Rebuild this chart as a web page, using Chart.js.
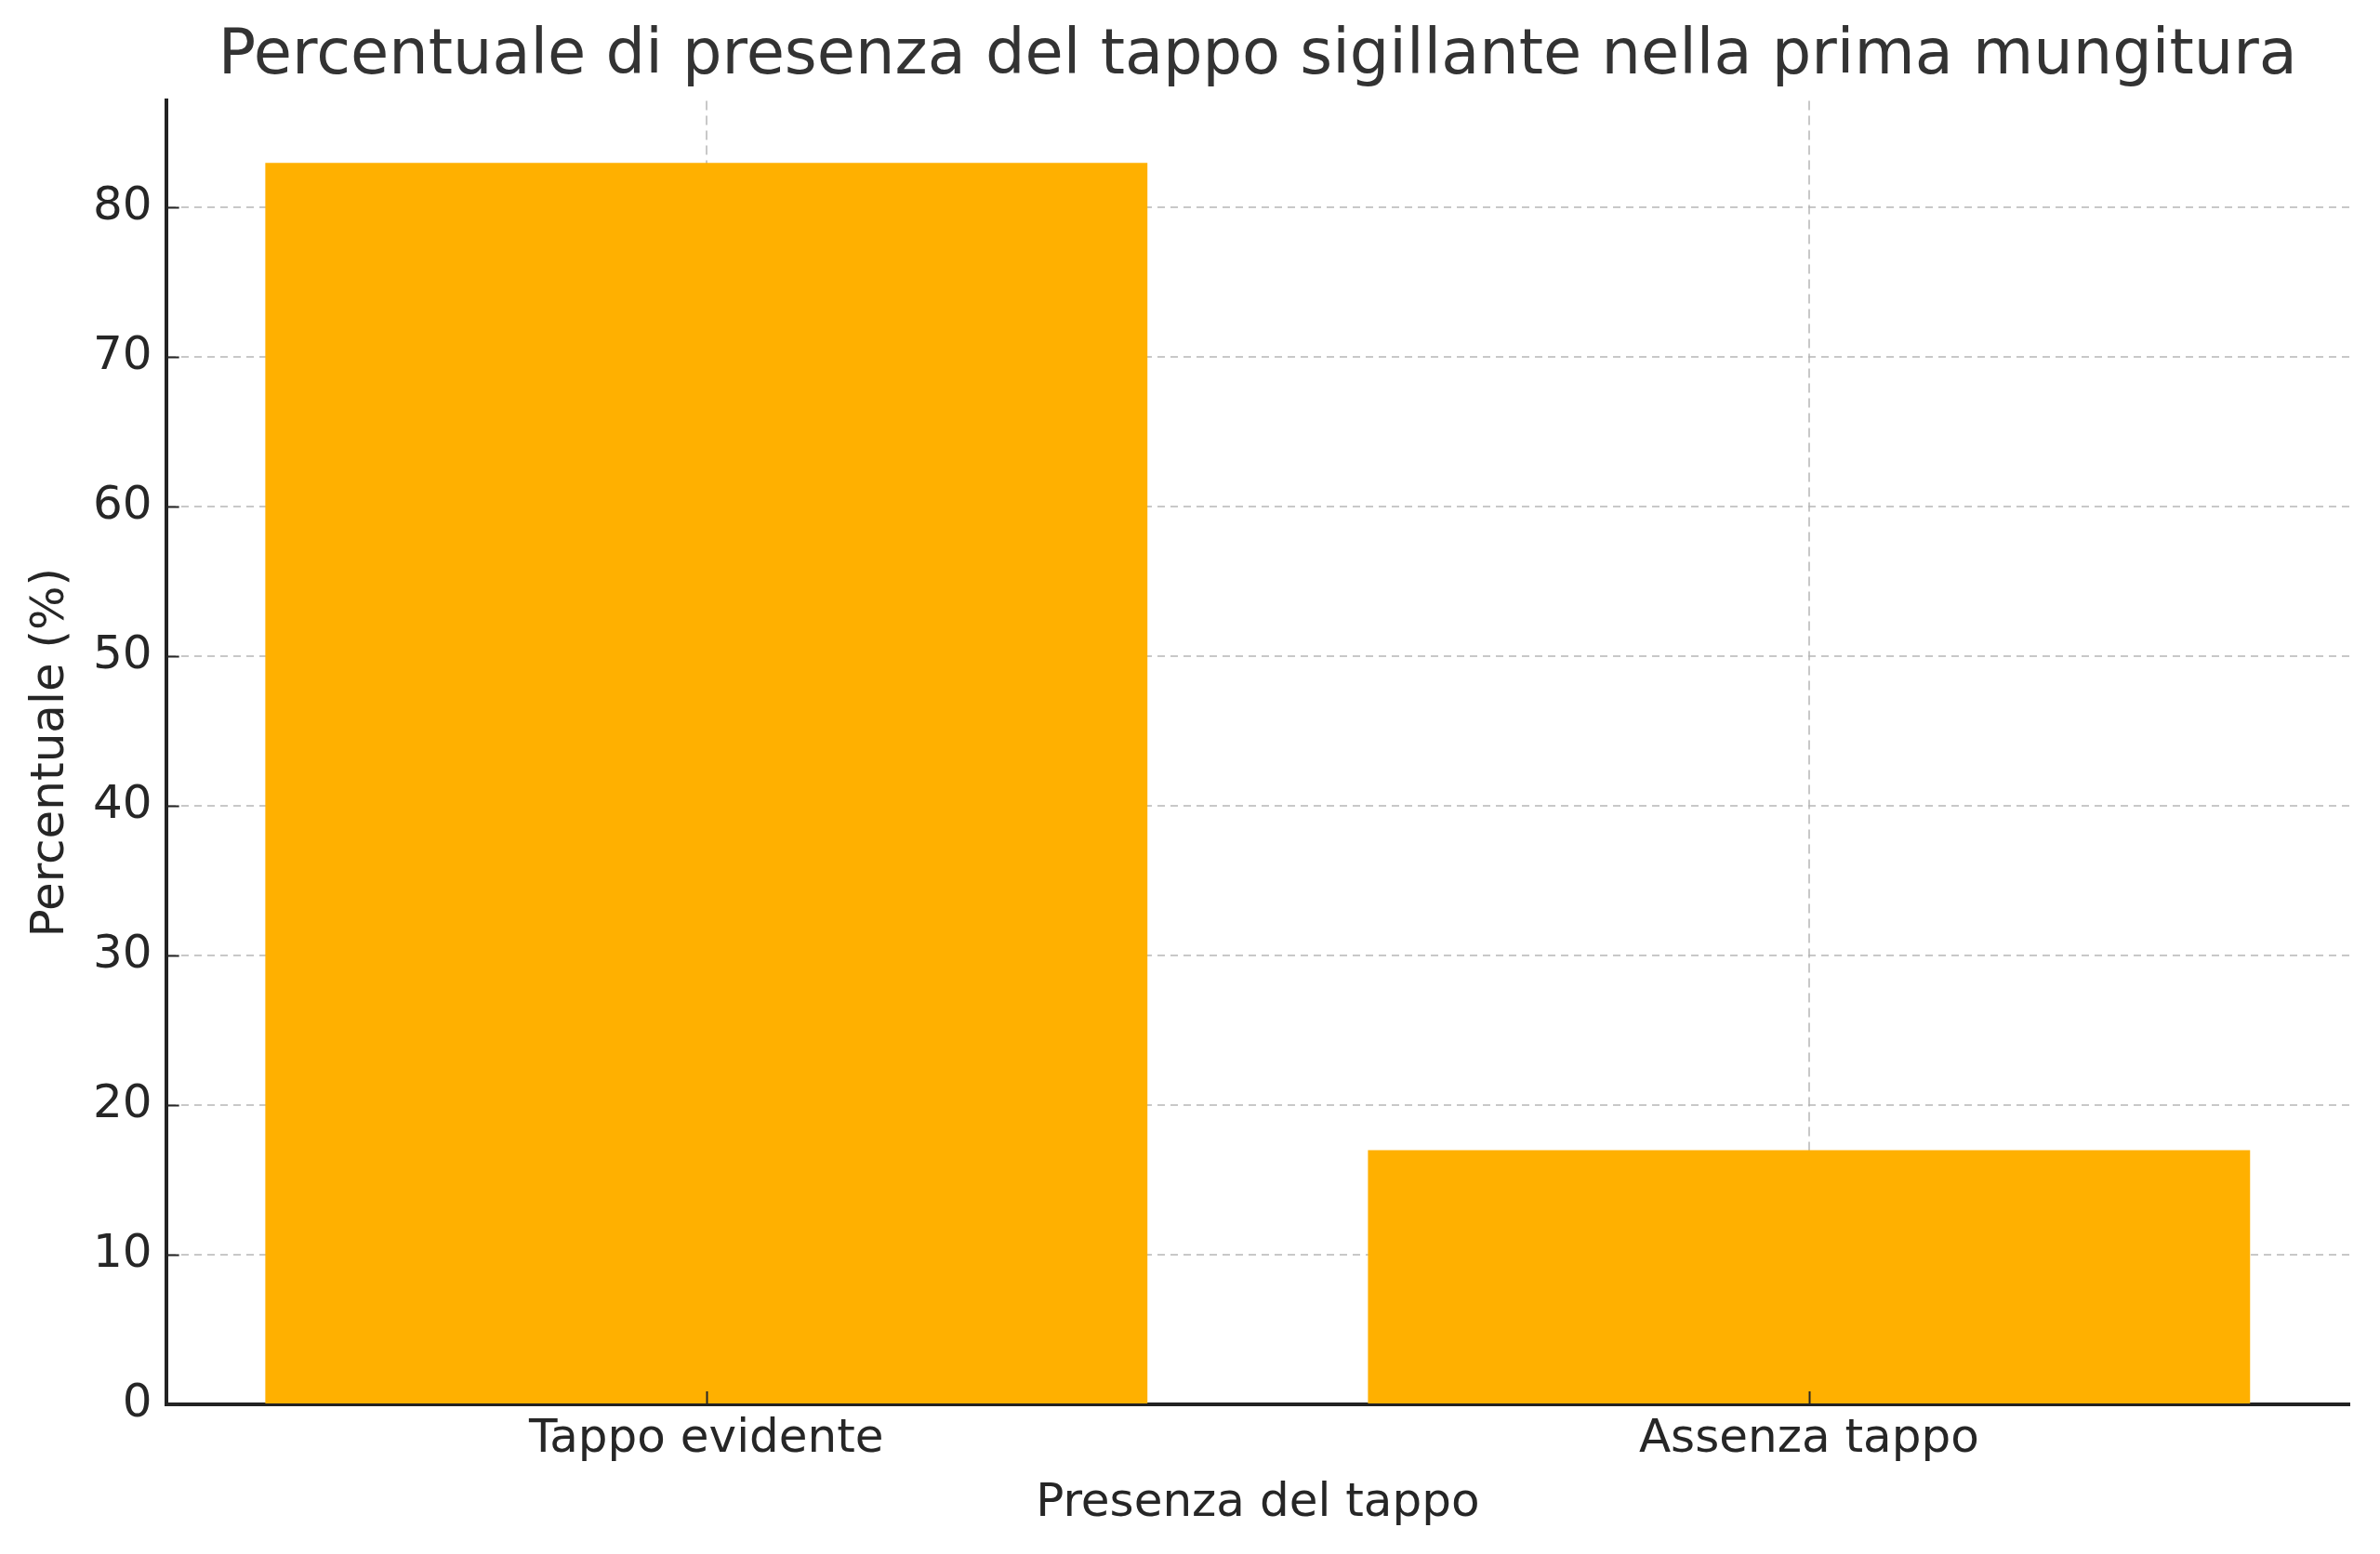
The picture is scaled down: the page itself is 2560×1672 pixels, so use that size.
<!DOCTYPE html>
<html>
<head>
<meta charset="utf-8">
<script src="https://cdn.jsdelivr.net/npm/chart.js@4.4.1/dist/chart.umd.min.js"></script>
<style>
  html, body { margin: 0; padding: 0; background: #fff; }
  #wrap { width: 2560px; height: 1672px; }
</style>
</head>
<body>
<div id="wrap"><canvas id="chart" width="2560" height="1672"></canvas></div>
<script>
// ── Data ────────────────────────────────────────────────────────────────
const categories = ['Tappo evidente', 'Assenza tappo'];
const percentuali = [83, 17];
const yTicks = [0, 10, 20, 30, 40, 50, 60, 70, 80];

const TEXT  = '#262626';
const GRID  = 'rgba(176,176,176,0.7)';
const BAR   = '#ffb000';

Chart.defaults.font.family = '"DejaVu Sans", sans-serif';
Chart.defaults.color = TEXT;

// ── Inward tick marks (matplotlib style) ────────────────────────────────
const innerTicks = {
  id: 'innerTicks',
  afterDraw(chart) {
    const { ctx, chartArea, scales } = chart;
    ctx.save();
    ctx.strokeStyle = TEXT;
    ctx.lineWidth = 2;
    ctx.beginPath();
    yTicks.forEach(v => {
      const y = Math.round(scales.y.getPixelForValue(v)) + 0.5;
      ctx.moveTo(chartArea.left, y);
      ctx.lineTo(chartArea.left + 14, y);
    });
    categories.forEach((c, i) => {
      const x = Math.round(scales.x.getPixelForValue(i)) + 0.5;
      ctx.moveTo(x, chartArea.bottom);
      ctx.lineTo(x, chartArea.bottom - 14);
    });
    ctx.stroke();
    ctx.restore();
  }
};

new Chart(document.getElementById('chart'), {
  type: 'bar',
  data: {
    datasets: [{
      data: percentuali.map((v, i) => ({ x: i, y: v })),
      backgroundColor: BAR,
      borderWidth: 0,
      barPercentage: 0.8,
      categoryPercentage: 1.0
    }]
  },
  options: {
    responsive: false,
    animation: false,
    devicePixelRatio: 1,
    layout: { padding: { left: 7, right: 33, top: 0, bottom: 24 } },
    plugins: {
      legend: { display: false },
      tooltip: { enabled: false },
      title: {
        display: true,
        fullSize: false,
        text: 'Percentuale di presenza del tappo sigillante nella prima mungitura',
        color: '#333333',
        font: { size: 67, weight: 'normal' },
        padding: { top: 21, bottom: 7 }
      }
    },
    scales: {
      x: {
        type: 'linear',
        z: 1,
        min: -0.49,
        max: 1.49,
        offset: false,
        afterBuildTicks(scale) { scale.ticks = categories.map((c, i) => ({ value: i })); },
        grid: { color: GRID, lineWidth: 2, drawTicks: false, offset: false },
        border: { color: '#222222', width: 4, dash: [10, 6] },
        ticks: {
          padding: 8,
          font: { size: 50 },
          color: TEXT,
          callback: v => categories[v]
        },
        title: {
          display: true,
          text: 'Presenza del tappo',
          font: { size: 50 },
          color: TEXT,
          padding: { top: 1, bottom: 0 }
        }
      },
      y: {
        z: 1,
        min: 0,
        max: 87.15,
        afterBuildTicks(scale) { scale.ticks = yTicks.map(v => ({ value: v })); },
        grid: { color: GRID, lineWidth: 2, drawTicks: false },
        border: { color: '#222222', width: 4, dash: [8, 6] },
        ticks: { padding: 15, font: { size: 50 }, color: TEXT },
        title: {
          display: true,
          text: 'Percentuale (%)',
          font: { size: 50 },
          color: TEXT,
          padding: { top: 18, bottom: 0 }
        }
      }
    }
  },
  plugins: [innerTicks]
});
</script>
</body>
</html>
